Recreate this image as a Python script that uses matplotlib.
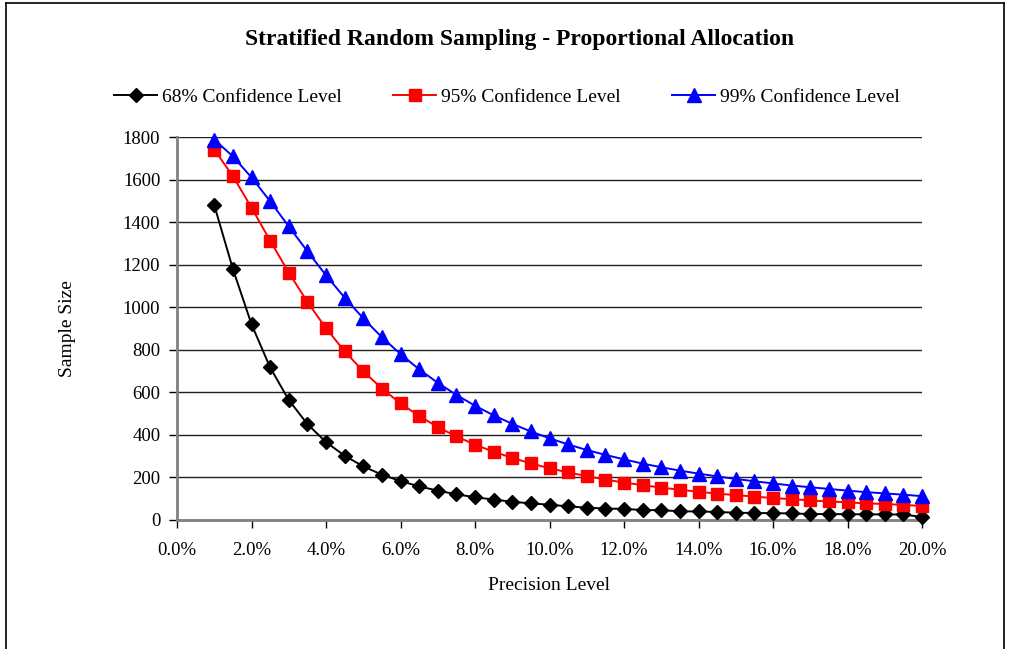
import matplotlib
matplotlib.use("Agg")
import matplotlib.pyplot as plt
from matplotlib.lines import Line2D
from matplotlib.ticker import FuncFormatter, MultipleLocator

plt.rcParams['font.family'] = ['Liberation Serif', 'DejaVu Serif']

precision = [1.0, 1.5, 2.0, 2.5, 3.0, 3.5, 4.0, 4.5, 5.0, 5.5, 6.0, 6.5, 7.0, 7.5,
             8.0, 8.5, 9.0, 9.5, 10.0, 10.5, 11.0, 11.5, 12.0, 12.5, 13.0, 13.5,
             14.0, 14.5, 15.0, 15.5, 16.0, 16.5, 17.0, 17.5, 18.0, 18.5, 19.0, 19.5, 20.0]

conf68 = [1480, 1180, 920, 717, 564, 451, 366, 302, 252, 213, 183, 158, 138, 121,
          107, 96, 86, 78, 72, 64, 58, 54, 52, 47, 46, 41, 40, 38, 34, 33, 32, 31,
          28, 28, 27, 27, 26, 26, 14]

conf95 = [1741, 1616, 1468, 1313, 1163, 1025, 901, 793, 699, 618, 548, 489, 437, 393,
          354, 321, 292, 266, 243, 224, 206, 190, 176, 164, 152, 142, 133, 124, 117,
          110, 103, 98, 92, 87, 83, 78, 75, 71, 66]

conf99 = [1788, 1709, 1610, 1498, 1380, 1263, 1150, 1045, 948, 859, 780, 708, 645, 588,
          537, 492, 452, 416, 384, 355, 329, 306, 285, 265, 248, 232, 218, 205, 193,
          182, 172, 162, 154, 146, 138, 131, 125, 119, 112]

labels = ["68% Confidence Level", "95% Confidence Level", "99% Confidence Level"]
title = "Stratified Random Sampling - Proportional Allocation"

W, H = 1011, 649
fig = plt.figure(figsize=(W / 100, H / 100), dpi=100)
ax = fig.add_axes([177 / W, 1 - 520 / H, (922 - 177) / W, (520 - 137) / H])

ax.plot(precision, conf68, color='black', lw=1.4, marker='D', markersize=7.2,
        markerfacecolor='black', markeredgecolor='black', label=labels[0], zorder=3,
        clip_on=False)
ax.plot(precision, conf95, color='#ff0000', lw=1.4, marker='s', markersize=8.6,
        markerfacecolor='#ff0000', markeredgecolor='#ff0000', label=labels[1], zorder=3,
        clip_on=False)
ax.plot(precision, conf99, color='#0000ff', lw=1.4, marker='^', markersize=10,
        markerfacecolor='#0000ff', markeredgecolor='#0000ff', label=labels[2], zorder=4,
        clip_on=False)

ax.set_xlim(0, 20)
ax.set_ylim(0, 1800)
ax.xaxis.set_major_locator(MultipleLocator(2))
ax.yaxis.set_major_locator(MultipleLocator(200))
ax.xaxis.set_major_formatter(FuncFormatter(lambda v, p: f"{v:.1f}%"))
ax.yaxis.set_major_formatter(FuncFormatter(lambda v, p: f"{int(v)}"))

ax.grid(axis='y', color='#202020', lw=1.0)
ax.set_axisbelow(True)
for s in ['top', 'right']:
    ax.spines[s].set_visible(False)
for s in ['left', 'bottom']:
    ax.spines[s].set_color('#808080')
    ax.spines[s].set_linewidth(2)
ax.tick_params(axis='both', direction='out', length=6, width=1, color='black',
               labelsize=13.5, pad=6)
ax.tick_params(axis='x', pad=10)

ax.set_xlabel("Precision Level", fontsize=14, labelpad=13)
ax.set_ylabel("Sample Size", fontsize=14, labelpad=34)

fig.text(0.5135, 1 - 40 / H, title, ha='center', va='center', fontsize=17,
         fontweight='bold')

fig.legend(loc='center', bbox_to_anchor=(0.5015, 1 - 97 / H), ncol=3, frameon=False,
           fontsize=14, handlelength=2.2, handletextpad=0.25, columnspacing=2.65)

# outer border (left, top, right)
bx0, by0, bx1 = 5.5 / W, 1 - 3 / H, 1003.5 / W
fig.add_artist(Line2D([bx0, bx0], [0, by0], transform=fig.transFigure, color='black', lw=1.2))
fig.add_artist(Line2D([bx0, bx1], [by0, by0], transform=fig.transFigure, color='black', lw=1.2))
fig.add_artist(Line2D([bx1, bx1], [0, by0], transform=fig.transFigure, color='black', lw=1.2))

fig.savefig("out.png", dpi=100)
